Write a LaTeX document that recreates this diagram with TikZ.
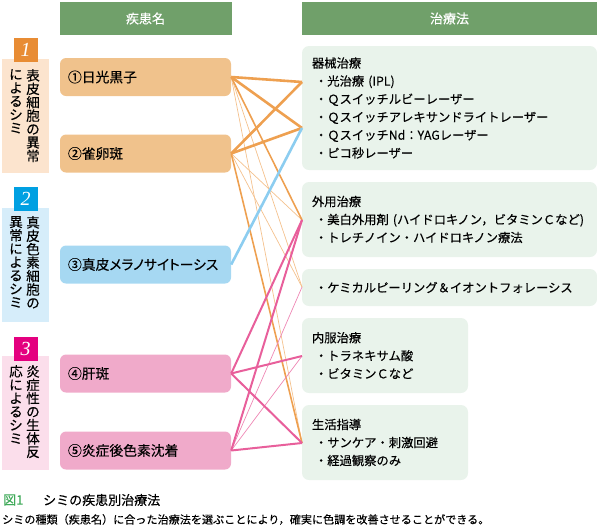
\documentclass[tikz,border=0pt]{standalone}
\usepackage{fontspec}
\setmainfont{Noto Sans CJK JP}[UprightFeatures={FakeBold=0.25}]
\newfontfamily\numfont{Liberation Serif}
\usepackage{tikz}

\definecolor{hdrgreen}{RGB}{112,160,106}
\definecolor{boxorange}{RGB}{240,194,140}
\definecolor{boxblue}{RGB}{166,216,242}
\definecolor{boxpink}{RGB}{240,170,202}
\definecolor{paleorange}{RGB}{252,228,206}
\definecolor{paleblue}{RGB}{214,237,250}
\definecolor{palepink}{RGB}{251,222,235}
\definecolor{numorange}{RGB}{232,140,52}
\definecolor{numblue}{RGB}{0,160,226}
\definecolor{numpink}{RGB}{228,0,127}
\definecolor{treatgreen}{RGB}{233,243,235}
\definecolor{lorange}{RGB}{238,160,80}
\definecolor{lblue}{RGB}{140,205,240}
\definecolor{lpink}{RGB}{232,95,155}
\definecolor{capgreen}{RGB}{64,170,90}

\begin{document}
\begin{tikzpicture}[x=1pt,y=1pt]
    \tikzstyle{every node}+=[inner sep=0pt]
    \tikzstyle{hdr}=[fill=hdrgreen,text=white,minimum height=33pt,font=\fontsize{13}{14}\selectfont]
    \tikzstyle{dbox}=[rounded corners=6pt,text width=155pt,inner xsep=8pt,minimum height=38pt,align=left,font=\fontsize{13.8}{15}\selectfont]
    \tikzstyle{pale}=[minimum width=47pt,minimum height=114pt]
    \tikzstyle{numbox}=[minimum size=24pt,text=white,font=\numfont\itshape\fontsize{20}{20}\selectfont]
    \tikzstyle{vcol}=[anchor=north,align=center,font=\fontsize{13.5}{13.4}\selectfont]
    \tikzstyle{tbox}=[fill=treatgreen,rounded corners=7pt,inner xsep=10pt,align=left,font=\fontsize{12.3}{18}\selectfont]
    \tikzstyle{thickline}=[line width=2.6pt]
    \tikzstyle{medline}=[line width=1.6pt]
    \tikzstyle{pinkline}=[line width=2pt]
    \tikzstyle{thinline}=[line width=0.7pt]
    \useasboundingbox (0,0) rectangle (597,-531);

    \node [hdr,minimum width=172pt] (h1) at (145.5,-18.5) {疾患名};
    \node [hdr,minimum width=295pt] (h2) at (449.5,-18.5) {治療法};

    \node [pale,fill=paleorange] (p1) at (25.5,-116) {};
    \node [numbox,fill=numorange] (n1) at (25.5,-50) {1};
    \node [vcol] (v1a) at (33,-69) {表\\皮\\細\\胞\\の\\異\\常};
    \node [vcol] (v1b) at (16,-69) {に\\よ\\る\\シ\\ミ};

    \node [pale,fill=paleblue] (p2) at (25.5,-264.5) {};
    \node [numbox,fill=numblue] (n2) at (25.5,-199) {2};
    \node [vcol] (v2a) at (33,-216) {真\\皮\\色\\素\\細\\胞\\の};
    \node [vcol] (v2b) at (16,-216) {異\\常\\に\\よ\\る\\シ\\ミ};

    \node [pale,fill=palepink] (p3) at (25.5,-413) {};
    \node [numbox,fill=numpink] (n3) at (25.5,-348.5) {3};
    \node [vcol] (v3a) at (33,-365) {炎\\症\\性\\の\\生\\体\\反};
    \node [vcol] (v3b) at (16,-365) {応\\に\\よ\\る\\シ\\ミ};

    \node [dbox,fill=boxorange] (d1) at (145.5,-77) {①日光黒子};
    \node [dbox,fill=boxorange] (d2) at (145.5,-153.5) {②雀卵斑};
    \node [dbox,fill=boxblue] (d3) at (145.5,-264.5) {③真皮\addfontfeature{RawFeature=+palt}メラノサイトーシス};
    \node [dbox,fill=boxpink] (d4) at (145.5,-373.5) {④肝斑};
    \node [dbox,fill=boxpink] (d5) at (145.5,-450.5) {⑤炎症後色素沈着};

    \node [tbox,text width=275pt,minimum height=124pt] (kikai) at (449.5,-108) {器械治療\\
        \hspace*{3pt}・光治療 (IPL)\\
        \hspace*{3pt}・Ｑスイッチルビーレーザー\\
        \hspace*{3pt}・Ｑスイッチアレキサンドライトレーザー\\
        \hspace*{3pt}・ＱスイッチNd：YAGレーザー\\
        \hspace*{3pt}・ピコ秒レーザー};
    \node [tbox,text width=275pt,minimum height=75pt] (gaiyo) at (449.5,-219.5) {外用治療\\
        \hspace*{3pt}・美白外用剤 (ハイドロキノン，ビタミンＣなど)\\
        \hspace*{3pt}・トレチノイン・ハイドロキノン療法};
    \node [tbox,text width=275pt,minimum height=37pt] (chem) at (449.5,-287.5) {\hspace*{3pt}・ケミカルピーリング＆イオントフォレーシス};
    \node [tbox,text width=146pt,minimum height=75pt] (naifuku) at (385,-355.5) {内服治療\\
        \hspace*{3pt}・トラネキサム酸\\
        \hspace*{3pt}・ビタミンＣなど};
    \node [tbox,text width=146pt,minimum height=75pt] (seikatsu) at (385,-442.5) {生活指導\\
        \hspace*{3pt}・サンケア・刺激回避\\
        \hspace*{3pt}・経過観察のみ};

    \coordinate (tMa) at (302,-82);
    \coordinate (tMb) at (302,-128);
    \coordinate (tGa) at (302,-220);
    \coordinate (tCh) at (302,-287);
    \coordinate (tNa) at (302,-356);
    \coordinate (tSe) at (302,-443);

    \draw [lorange!65,thinline] (d1.east) -- (tCh);
    \draw [lorange!65,thinline] (d1.east) -- (tSe);
    \draw [lorange!65,thinline] (d2.east) -- (tGa);
    \draw [lorange!65,thinline] (d2.east) -- (tCh);
    \draw [lorange,medline] (d1.east) -- (tGa);
    \draw [lorange,medline] (d2.east) -- (tSe);
    \draw [lorange,thickline] (d1.east) -- (tMa);
    \draw [lorange,thickline] (d1.east) -- (tMb);
    \draw [lorange,thickline] (d2.east) -- (tMa);
    \draw [lorange,thickline] (d2.east) -- (tMb);
    \draw [lblue,thickline] (d3.east) -- (tMb);
    \draw [lpink!75,thinline] (d5.east) -- (tCh);
    \draw [lpink!75,thinline] (d5.east) -- (tNa);
    \draw [lpink,pinkline] (d4.east) -- (tGa);
    \draw [lpink,pinkline] (d5.east) -- (tGa);
    \draw [lpink,pinkline] (d4.east) -- (tNa);
    \draw [lpink,pinkline] (d4.east) -- (tSe);
    \draw [lpink,pinkline] (d5.east) -- (tSe);

    \node [anchor=west,text=capgreen,font=\fontsize{13}{14}\selectfont] (fig) at (3,-500) {図1};
    \node [anchor=west,font=\fontsize{13}{14}\selectfont] (cap) at (43,-500) {シミの疾患別治療法};
    \node [anchor=west,font=\fontsize{11.1}{12}\selectfont] (capb) at (2,-519.5) {シミの種類（疾患名）に合った治療法を選ぶことにより，確実に色調を改善させることができる。};
\end{tikzpicture}
\end{document}
